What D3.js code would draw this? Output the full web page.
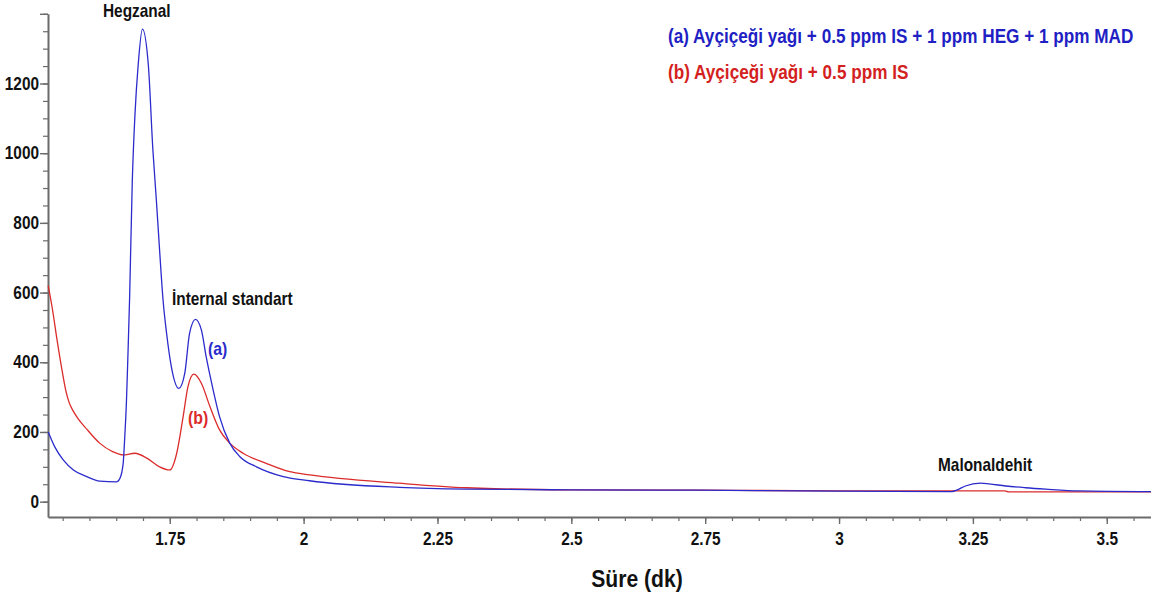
<!DOCTYPE html>
<html lang="tr">
<head>
<meta charset="UTF-8">
<title>Kromatogram</title>
<script src="https://d3js.org/d3.v7.min.js"></script>
<style>
  body { margin: 0; background: #fff; }
  text { font-family: "Liberation Sans", Arial, sans-serif; font-weight: bold; }
</style>
</head>
<body>
<svg id="chart" width="1151" height="597"></svg>
<script>
// (a) Ayçiçeği yağı + 0.5 ppm IS + 1 ppm HEG + 1 ppm MAD
const timeA = [1.523, 1.535, 1.551, 1.570, 1.595, 1.619, 1.651, 1.657, 1.663, 1.666, 1.669, 1.672, 1.675, 1.680, 1.685, 1.691, 1.699,
  1.710, 1.7185, 1.725, 1.731, 1.7375, 1.744, 1.753, 1.767, 1.778, 1.787, 1.798, 1.809, 1.818, 1.831, 1.843, 1.862, 1.881, 1.912, 1.962,
  2.011, 2.179, 2.304, 2.496, 2.739, 2.996, 3.211, 3.221, 3.236, 3.264, 3.280, 3.311, 3.348, 3.386, 3.448, 3.583];
const signalA = [200, 158, 120, 91, 72, 59, 57, 67, 110, 187, 282, 426, 584, 918, 1110, 1253, 1356,
  1253, 1009, 865, 722, 578, 484, 387, 325, 368, 483, 523, 493, 416, 321, 244, 168, 129, 100, 72,
  60, 41, 36, 34, 33, 30, 29, 34, 45, 53, 51, 45, 40, 36, 31, 29];

// (b) Ayçiçeği yağı + 0.5 ppm IS
const timeB = [1.523, 1.5306, 1.540, 1.5496, 1.556, 1.562, 1.569, 1.578, 1.595, 1.619, 1.644, 1.663, 1.685, 1.707, 1.731, 1.750, 1.763, 1.775,
  1.784, 1.795, 1.809, 1.825, 1.843, 1.862, 1.887, 1.930, 1.974, 2.011, 2.179, 2.304, 2.496, 2.739, 2.996, 3.309, 3.317, 3.583];
const signalB = [620, 555, 459, 370, 318, 285, 262, 240, 208, 168, 143, 134, 139, 125, 100, 91, 139, 244,
  330, 366, 340, 273, 206, 168, 139, 110, 86, 77, 53, 40, 34, 33, 31, 31, 28, 28];

const xTicks = [1.75, 2, 2.25, 2.5, 2.75, 3, 3.25, 3.5];
const yTicks = [0, 200, 400, 600, 800, 1000, 1200, 1400];
const legendLabels = ["(a) Ayçiçeği yağı + 0.5 ppm IS + 1 ppm HEG + 1 ppm MAD", "(b) Ayçiçeği yağı + 0.5 ppm IS"];
const peakNames = ["Hegzanal", "İnternal standart", "Malonaldehit"];

const svg = d3.select("#chart");
const blue = "#2b2bcc", red = "#dc2b2b", axisCol = "#6b6b6b";
const narrow = 0.88; // the original uses a condensed bold face

const x = d3.scaleLinear().domain([1.5226, 3.5826]).range([48, 1151]);
const y = d3.scaleLinear().domain([-44, 1400]).range([517, 13.8]);

// condensed text at a pixel spot
function label(px, py, str, size, color, anchor) {
  return svg.append("text")
      .attr("transform", `translate(${px},${py}) scale(${narrow},1)`)
      .attr("text-anchor", anchor || "start")
      .style("font-size", size + "px")
      .attr("fill", color || "#111")
      .text(str);
}

// minor ticks
const yMinor = d3.range(0, 1401, 50);
const xMinor = d3.range(1.55, 3.57, 0.05);

svg.append("g")
    .attr("transform", "translate(48,0)")
    .call(d3.axisLeft(y).tickValues(yMinor).tickSize(5).tickFormat(""))
    .call(g => g.select(".domain").remove())
    .call(g => g.selectAll("line").attr("stroke", axisCol).attr("stroke-width", 1.2));
svg.append("g")
    .attr("transform", "translate(0,517)")
    .call(d3.axisBottom(x).tickValues(xMinor).tickSize(4).tickFormat(""))
    .call(g => g.select(".domain").remove())
    .call(g => g.selectAll("line").attr("stroke", axisCol).attr("stroke-width", 1.2));

const yAxis = svg.append("g")
    .attr("transform", "translate(48,0)")
    .call(d3.axisLeft(y).tickValues(yTicks).tickSize(8).tickSizeOuter(0).tickPadding(1)
        .tickFormat(d => d === 1400 ? "" : d));
const xAxis = svg.append("g")
    .attr("transform", "translate(0,517)")
    .call(d3.axisBottom(x).tickValues(xTicks).tickSize(7).tickSizeOuter(0).tickPadding(9)
        .tickFormat(d3.format("~g")));

[yAxis, xAxis].forEach(g => {
  g.select(".domain").attr("stroke", axisCol).attr("stroke-width", 2);
  g.selectAll(".tick line").attr("stroke", axisCol).attr("stroke-width", 1.4);
  g.selectAll("text").attr("fill", "#111").style("font-size", "17.5px")
      .style("font-family", "'Liberation Sans', Arial, sans-serif").style("font-weight", "bold");
});
// squeeze tick labels horizontally, keeping their anchor point
yAxis.selectAll(".tick text").attr("x", -9 / narrow).attr("transform", `scale(${narrow},1)`);
xAxis.selectAll(".tick text").attr("transform", `scale(${narrow},1)`);

label(637, 587, "Süre (dk)", 24, "#111", "middle");

const line = d3.line().x(d => x(d[0])).y(d => y(d[1])).curve(d3.curveMonotoneX);

const seriesB = d3.zip(timeB, signalB);
const seriesA = d3.zip(timeA, signalA);

svg.append("path").datum(seriesB)
    .attr("fill", "none").attr("stroke", red).attr("stroke-width", 1.3).attr("d", line);
svg.append("path").datum(seriesA)
    .attr("fill", "none").attr("stroke", blue).attr("stroke-width", 1.3).attr("d", line);

// peak annotations, placed in data coordinates
label(x(1.6253), y(1390), peakNames[0], 17.5);
label(x(1.7542), y(565), peakNames[1], 17.5);
label(x(3.1849), y(88), peakNames[2], 17.5);
label(x(1.8214), y(420), "(a)", 18, blue);
label(x(1.7841), y(222), "(b)", 18, red);

// legend
legendLabels.forEach((d, i) => {
  label(668, 43 + i * 36, d, 19.5, i === 0 ? "#1f1fc4" : "#d41f1f");
});
</script>
</body>
</html>
